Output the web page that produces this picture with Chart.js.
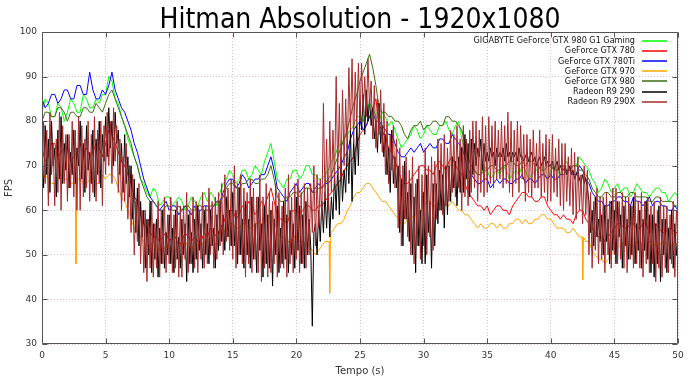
<!DOCTYPE html>
<html>
<head>
<meta charset="utf-8">
<script src="https://cdn.jsdelivr.net/npm/chart.js@4/dist/chart.umd.min.js"></script>
<style>
  html, body { margin: 0; padding: 0; background: #ffffff; }
  #wrap { width: 690px; height: 377px; }
</style>
</head>
<body>
<div id="wrap"><canvas id="c" width="690" height="377"></canvas></div>
<script>
// ---- data ----
const chartTitle = 'Hitman Absolution - 1920x1080';
const xTitle = 'Tempo (s)';
const yTitle = 'FPS';
const xTicks = [0, 5, 10, 15, 20, 25, 30, 35, 40, 45, 50];
const yTicks = [30, 40, 50, 60, 70, 80, 90, 100];

const seriesNames = [
  'GIGABYTE GeForce GTX 980 G1 Gaming',
  'GeForce GTX 780',
  'GeForce GTX 780Ti',
  'GeForce GTX 970',
  'GeForce GTX 980',
  'Radeon R9 290',
  'Radeon R9 290X'
];
const seriesColors = ['#00ff00', '#ff0000', '#0000ff', '#ffa500', '#3b6e0f', '#000000', '#a52a2a'];

// NVIDIA series: one value every 0.25 s (0 .. 50 s), one row per second
const stepSmooth = 0.25;
const g1Gaming = [
  82, 85, 84, 81,  81, 84, 83, 80,  82, 85, 84, 82,  82, 86, 85, 83,  83, 85, 84, 86,
  86, 90, 89, 85,  84, 81, 79, 76,  74, 72, 70, 67,  66, 64, 63, 65,  64, 61, 62, 63,
  63, 61, 62, 63,  62, 60, 61, 63,  62, 61, 63, 64,  62, 64, 63, 61,  64, 66, 67, 69,
  68, 66, 67, 69,  69, 67, 68, 70,  69, 68, 71, 73,  75, 71, 67, 66,  65, 67, 67, 69,
  69, 67, 68, 70,  70, 68, 68, 67,  67, 68, 69, 71,  72, 74, 75, 76,  77, 78, 79, 81,
  81, 80, 82, 84,  83, 81, 80, 82,  81, 79, 80, 78,  76, 74, 75, 76,  77, 79, 78, 76,
  77, 79, 78, 77,  77, 79, 79, 80,  78, 77, 79, 80,  76, 74, 71, 70,  69, 68, 68, 70,
  69, 67, 68, 69,  68, 70, 69, 67,  68, 69, 68, 70,  69, 67, 68, 69,  69, 70, 68, 67,
  69, 70, 69, 68,  70, 71, 69, 70,  70, 72, 71, 70,  69, 67, 66, 64,  65, 67, 66, 64,
  65, 66, 64, 65,  65, 63, 64, 66,  65, 64, 64, 63,  64, 65, 65, 64,  64, 62, 63, 64,
  63
];
const gtx780 = [
  74, 71, 72, 75,  75, 72, 73, 74,  74, 71, 72, 73,  75, 73, 74, 72,  73, 75, 74, 72,
  75, 78, 77, 75,  73, 71, 70, 68,  66, 63, 62, 59,  57, 56, 55, 54,  54, 53, 54, 55,
  53, 54, 54, 52,  53, 55, 54, 53,  54, 53, 53, 55,  54, 56, 55, 54,  56, 57, 59, 60,
  60, 58, 59, 61,  60, 62, 61, 59,  60, 62, 61, 63,  65, 62, 59, 58,  58, 57, 59, 60,
  60, 59, 60, 61,  61, 60, 60, 61,  61, 62, 63, 64,  65, 66, 67, 69,  70, 71, 72, 75,
  77, 78, 79, 81,  83, 85, 79, 78,  76, 74, 73, 71,  69, 67, 66, 66,  67, 68, 69, 70,
  70, 69, 69, 68,  70, 71, 70, 69,  71, 72, 70, 69,  68, 66, 64, 63,  62, 61, 61, 60,
  61, 59, 60, 61,  61, 60, 60, 59,  61, 62, 63, 64,  64, 63, 63, 62,  62, 63, 63, 61,
  60, 59, 59, 58,  59, 58, 58, 57,  59, 60, 60, 58,  57, 56, 55, 54,  54, 53, 54, 55,
  56, 57, 57, 56,  56, 57, 57, 56,  56, 57, 57, 55,  56, 57, 56, 55,  55, 56, 56, 55,
  55
];
const gtx780Ti = [
  85, 83, 84, 86,  86, 84, 85, 87,  87, 85, 85, 88,  88, 86, 86, 91,  87, 85, 85, 87,
  86, 88, 91, 87,  85, 83, 82, 80,  78, 75, 73, 70,  67, 65, 63, 62,  61, 60, 61, 62,
  60, 61, 61, 59,  60, 61, 60, 59,  61, 60, 60, 61,  61, 60, 61, 62,  62, 64, 66, 67,
  67, 65, 66, 68,  67, 65, 66, 67,  67, 68, 68, 70,  72, 69, 65, 64,  63, 62, 64, 65,
  66, 64, 65, 66,  66, 64, 65, 66,  65, 66, 66, 67,  68, 69, 70, 72,  73, 76, 78, 79,
  80, 78, 79, 81,  82, 80, 80, 79,  78, 77, 77, 75,  73, 72, 72, 73,  74, 73, 74, 75,
  73, 74, 75, 74,  74, 76, 76, 75,  75, 77, 76, 75,  74, 72, 69, 68,  67, 66, 66, 67,
  67, 65, 66, 67,  66, 67, 67, 66,  66, 67, 67, 68,  66, 67, 67, 66,  67, 68, 68, 67,
  68, 67, 67, 68,  68, 69, 69, 68,  68, 70, 69, 67,  66, 64, 63, 62,  62, 61, 61, 62,
  62, 63, 63, 62,  62, 61, 63, 62,  62, 61, 62, 63,  61, 62, 62, 61,  61, 60, 60, 61,
  60
];
const gtx970 = [
  66, 68, 67, 66,  66, 67, 68, 67,  67, 66, 66, 67,  67, 66, 66, 67,  67, 66, 66, 68,
  67, 68, 68, 67,  65, 63, 62, 60,  58, 56, 55, 54,  53, 52, 52, 53,  52, 51, 51, 52,
  52, 51, 51, 52,  52, 53, 52, 51,  53, 52, 52, 53,  53, 54, 53, 52,  54, 55, 56, 57,
  57, 56, 56, 57,  57, 56, 56, 57,  57, 58, 57, 58,  60, 58, 55, 54,  54, 53, 53, 54,
  54, 53, 53, 52,  52, 51, 50, 51,  52, 53, 53, 55,  56, 57, 57, 58,  60, 61, 63, 64,
  64, 65, 66, 66,  65, 64, 63, 62,  62, 61, 60, 59,  58, 57, 57, 58,  58, 59, 59, 60,
  61, 62, 62, 61,  61, 62, 62, 61,  61, 62, 61, 60,  60, 59, 59, 58,  57, 56, 57, 56,
  56, 57, 57, 56,  57, 56, 56, 57,  57, 58, 58, 57,  58, 57, 57, 58,  58, 59, 59, 58,
  58, 57, 56, 56,  56, 55, 55, 56,  55, 54, 54, 53,  53, 51, 50, 49,  49, 48, 49, 50,
  51, 52, 52, 53,  53, 52, 52, 53,  53, 52, 52, 53,  53, 52, 52, 53,  53, 52, 52, 53,
  52
];
// short drops of the GTX 970 line: [time, fps]
const gtx970Spikes = [[2.62, 66], [2.67, 48], [2.72, 66], [22.57, 53], [22.62, 41.4], [22.67, 54], [42.47, 54], [42.52, 44.4], [42.57, 54]];
const gtx980 = [
  80, 82, 82, 81,  81, 83, 83, 82,  80, 82, 82, 81,  81, 83, 83, 82,  82, 84, 83, 82,
  84, 86, 87, 85,  83, 81, 79, 77,  75, 72, 70, 67,  65, 63, 62, 62,  61, 60, 60, 61,
  61, 60, 60, 61,  60, 61, 61, 60,  60, 61, 61, 60,  60, 61, 61, 62,  62, 63, 65, 66,
  66, 65, 65, 66,  66, 67, 67, 66,  66, 67, 67, 68,  70, 67, 63, 62,  62, 63, 63, 64,
  64, 63, 64, 65,  65, 64, 64, 65,  65, 66, 67, 68,  70, 72, 74, 76,  78, 81, 84, 86,
  89, 91, 93, 95,  92, 88, 83, 82,  82, 81, 81, 80,  80, 79, 77, 76,  78, 79, 79, 80,
  78, 79, 79, 80,  80, 79, 79, 81,  81, 80, 80, 79,  78, 75, 72, 70,  69, 68, 68, 69,
  69, 70, 70, 69,  69, 70, 70, 71,  71, 70, 70, 71,  70, 71, 71, 70,  70, 69, 69, 70,
  70, 69, 69, 70,  70, 69, 69, 70,  70, 69, 69, 68,  67, 65, 64, 63,  63, 64, 64, 63,
  63, 64, 64, 63,  63, 64, 64, 63,  63, 63, 63, 62,  62, 63, 63, 62,  62, 62, 62, 61,
  61
];

// AMD series: one value every 0.125 s (0 .. 50 s), one row per second
const stepNoisy = 0.125;
const r9290 = [
  72, 65, 79, 68, 76, 64, 80, 70,
  74, 63, 78, 67, 81, 66, 75, 69,
  77, 65, 73, 68, 78, 66, 74, 70,
  80, 67, 75, 64, 79, 69, 73, 66,
  78, 63, 76, 68, 80, 65, 77, 71,
  81, 72, 83, 74, 80, 70, 82, 75,
  78, 68, 75, 64, 77, 66, 72, 63,
  70, 58, 67, 55, 65, 52, 62, 54,
  60, 47, 58, 50, 62, 46, 57, 49,
  58, 45, 56, 48, 60, 47, 55, 50,
  59, 48, 56, 46, 60, 49, 54, 47,
  58, 50, 57, 44, 59, 48, 55, 46,
  58, 49, 61, 51, 57, 47, 60, 50,
  57, 48, 60, 52, 56, 47, 59, 51,
  62, 53, 59, 51, 63, 54, 60, 52,
  64, 52, 60, 48, 65, 50, 58, 47,
  62, 50, 58, 47, 63, 49, 57, 46,
  63, 51, 57, 45, 61, 48, 59, 47,
  60, 43, 58, 50, 61, 46, 56, 48,
  62, 49, 59, 46, 60, 50, 57, 47,
  63, 51, 61, 48, 59, 47, 62, 50,
  58, 52, 34, 55, 57, 50, 60, 53,
  62, 55, 64, 56, 65, 54, 63, 58,
  68, 60, 70, 59, 72, 62, 69, 64,
  75, 66, 78, 62, 76, 68, 79, 70,
  84, 78, 86, 77, 87, 80, 85, 79,
  83, 76, 80, 73, 84, 75, 79, 72,
  77, 68, 74, 64, 78, 66, 72, 65,
  70, 55, 67, 52, 71, 58, 64, 53,
  66, 50, 63, 46, 67, 52, 60, 48,
  64, 48, 68, 55, 62, 47, 66, 52,
  66, 57, 69, 60, 68, 56, 70, 59,
  70, 62, 72, 65, 71, 61, 72, 64,
  74, 64, 77, 67, 75, 63, 76, 68,
  75, 70, 74, 72, 76, 69, 75, 71,
  73, 71, 74, 72, 73, 70, 74, 72,
  73, 72, 74, 71, 75, 72, 73, 71,
  73, 72, 73, 71, 74, 72, 72, 71,
  72, 73, 71, 72, 73, 71, 72, 70,
  71, 72, 70, 71, 72, 70, 71, 70,
  70, 71, 69, 70, 71, 69, 70, 69,
  69, 70, 68, 69, 70, 68, 69, 67,
  68, 69, 67, 66, 68, 66, 67, 65,
  62, 55, 60, 52, 63, 54, 58, 53,
  59, 50, 61, 53, 58, 48, 62, 51,
  60, 48, 62, 54, 59, 47, 61, 52,
  58, 49, 61, 50, 63, 48, 57, 51,
  60, 47, 58, 51, 62, 49, 59, 46,
  59, 45, 57, 48, 61, 44, 58, 50,
  58, 46, 56, 49, 60, 47, 57, 50,
  54
];
const r9290X = [
  63, 80, 66, 78, 61, 82, 68, 75,
  61, 76, 64, 82, 60, 79, 66, 77,
  62, 77, 65, 80, 63, 78, 60, 81,
  60, 79, 63, 76, 65, 80, 62, 77,
  64, 81, 62, 78, 66, 80, 61, 79,
  68, 82, 70, 80, 66, 83, 71, 79,
  64, 76, 60, 72, 62, 75, 58, 70,
  55, 68, 50, 62, 53, 66, 48, 60,
  46, 60, 44, 58, 47, 62, 45, 57,
  47, 62, 45, 60, 48, 63, 46, 59,
  48, 63, 46, 59, 47, 62, 45, 61,
  45, 61, 49, 64, 46, 60, 48, 63,
  47, 62, 46, 60, 49, 64, 47, 61,
  48, 65, 50, 62, 47, 63, 49, 64,
  52, 66, 50, 68, 53, 65, 51, 67,
  49, 70, 47, 66, 50, 68, 48, 65,
  45, 64, 48, 67, 46, 65, 49, 63,
  46, 68, 44, 63, 47, 66, 45, 64,
  46, 62, 48, 66, 45, 64, 47, 61,
  47, 65, 45, 68, 48, 63, 46, 66,
  49, 67, 46, 64, 48, 66, 47, 65,
  50, 66, 55, 70, 52, 68, 56, 67,
  58, 84, 62, 76, 60, 80, 64, 78,
  66, 90, 68, 84, 67, 87, 70, 85,
  72, 92, 78, 94, 75, 91, 79, 93,
  80, 93, 82, 90, 81, 94, 83, 89,
  76, 88, 74, 85, 77, 87, 73, 84,
  68, 80, 66, 77, 69, 79, 65, 76,
  56, 74, 52, 70, 58, 72, 54, 69,
  50, 72, 48, 66, 52, 70, 49, 68,
  52, 74, 50, 70, 54, 72, 51, 71,
  58, 76, 60, 75, 59, 77, 61, 74,
  62, 78, 64, 77, 63, 79, 65, 76,
  60, 79, 63, 76, 61, 78, 64, 80,
  65, 80, 62, 78, 64, 81, 63, 79,
  64, 81, 66, 79, 65, 80, 67, 78,
  67, 80, 65, 79, 66, 82, 64, 80,
  63, 78, 66, 80, 64, 79, 67, 77,
  62, 77, 64, 76, 63, 78, 65, 75,
  65, 78, 63, 75, 64, 77, 62, 76,
  62, 77, 64, 74, 63, 76, 61, 75,
  60, 75, 62, 72, 61, 74, 59, 73,
  58, 72, 60, 68, 57, 70, 59, 69,
  50, 64, 47, 62, 51, 65, 48, 63,
  49, 63, 46, 64, 50, 62, 47, 65,
  50, 65, 48, 62, 49, 64, 47, 63,
  46, 63, 49, 61, 47, 64, 48, 62,
  47, 64, 45, 62, 48, 63, 46, 61,
  48, 62, 44, 60, 47, 63, 45, 61,
  47, 61, 46, 59, 48, 62, 45, 60,
  55
];

// ---- build the library data ----
function toPoints(values, step) {
  return values.map((v, i) => ({ x: i * step, y: v }));
}
function withSpikes(points, spikes) {
  const all = points.concat(spikes.map(s => ({ x: s[0], y: s[1] })));
  all.sort((a, b) => a.x - b.x);
  return all;
}
const seriesPoints = [
  toPoints(g1Gaming, stepSmooth),
  toPoints(gtx780, stepSmooth),
  toPoints(gtx780Ti, stepSmooth),
  withSpikes(toPoints(gtx970, stepSmooth), gtx970Spikes),
  toPoints(gtx980, stepSmooth),
  toPoints(r9290, stepNoisy),
  toPoints(r9290X, stepNoisy)
];

const datasets = seriesNames.map((name, i) => ({
  label: name,
  data: seriesPoints[i],
  borderColor: seriesColors[i],
  backgroundColor: seriesColors[i],
  borderWidth: 1,
  pointRadius: 0,
  tension: 0,
  fill: false,
  order: seriesNames.length - i   // later series drawn on top, as in the original
}));

const PLOT = { left: 42, right: 678, top: 32, bottom: 344 };
const TICK_FONT = { family: 'DejaVu Sans', size: 9 };
const TEXT_COLOR = '#333333';

const decorations = {
  id: 'decorations',
  afterDraw(chart) {
    const { ctx, chartArea: a, scales } = chart;
    const xs = scales.x, ys = scales.y;
    ctx.save();
    ctx.strokeStyle = '#555555';
    ctx.lineWidth = 1;
    const L = Math.round(a.left) + 0.5, R = Math.round(a.right) - 0.5;
    const T = Math.round(a.top) + 0.5, B = Math.round(a.bottom) - 0.5;
    ctx.beginPath();
    ctx.rect(L, T, R - L, B - T);
    xTicks.forEach(v => {
      const px = Math.round(xs.getPixelForValue(v)) + 0.5;
      ctx.moveTo(px, B); ctx.lineTo(px, B - 5);
      ctx.moveTo(px, T); ctx.lineTo(px, T + 5);
    });
    yTicks.forEach(v => {
      const py = Math.round(ys.getPixelForValue(v)) + 0.5;
      ctx.moveTo(L, py); ctx.lineTo(L + 5, py);
      ctx.moveTo(R, py); ctx.lineTo(R - 5, py);
    });
    ctx.stroke();

    // title
    ctx.fillStyle = '#000000';
    ctx.font = '28px "DejaVu Sans Condensed"';
    ctx.textAlign = 'center';
    ctx.textBaseline = 'alphabetic';
    ctx.fillText(chartTitle, (a.left + a.right) / 2, 28);

    // axis titles
    ctx.fillStyle = TEXT_COLOR;
    ctx.font = '10px "DejaVu Sans"';
    ctx.textBaseline = 'middle';
    ctx.fillText(xTitle, (a.left + a.right) / 2, 371);
    ctx.save();
    ctx.translate(9, (a.top + a.bottom) / 2);
    ctx.rotate(-Math.PI / 2);
    ctx.fillText(yTitle, 0, 0);
    ctx.restore();

    // legend (top right, text right-aligned, line sample on the right)
    ctx.font = '9px "DejaVu Sans Condensed"';
    ctx.textAlign = 'right';
    ctx.textBaseline = 'middle';
    seriesNames.forEach((name, i) => {
      const yy = 41 + i * 10.1;
      ctx.fillStyle = '#111111';
      ctx.fillText(name, 635, yy);
      ctx.beginPath();
      ctx.strokeStyle = seriesColors[i];
      ctx.lineWidth = 1.5;
      ctx.moveTo(642, Math.round(yy));
      ctx.lineTo(667, Math.round(yy));
      ctx.stroke();
    });
    ctx.restore();
  }
};

new Chart(document.getElementById('c'), {
  type: 'line',
  data: { datasets },
  options: {
    responsive: false,
    animation: false,
    devicePixelRatio: 1,
    layout: { padding: { top: PLOT.top, right: 690 - PLOT.right, left: 0, bottom: 0 } },
    plugins: {
      legend: { display: false },
      title: { display: false },
      tooltip: { enabled: false }
    },
    scales: {
      x: {
        type: 'linear',
        min: 0, max: 50,
        afterBuildTicks: s => { s.ticks = xTicks.map(v => ({ value: v })); },
        afterFit: s => { s.height = 377 - PLOT.bottom; },
        ticks: { font: TICK_FONT, color: TEXT_COLOR, padding: 6, maxRotation: 0, autoSkip: false },
        grid: { color: '#e3bcc4', drawTicks: false, lineWidth: 1 },
        border: { display: false, dash: [1, 2] }
      },
      y: {
        type: 'linear',
        min: 30, max: 100,
        afterBuildTicks: s => { s.ticks = yTicks.map(v => ({ value: v })); },
        afterFit: s => { s.width = PLOT.left; },
        ticks: { font: TICK_FONT, color: TEXT_COLOR, padding: 5, autoSkip: false },
        grid: { color: '#e3bcc4', drawTicks: false, lineWidth: 1 },
        border: { display: false, dash: [1, 2] }
      }
    }
  },
  plugins: [decorations]
});
</script>
</body>
</html>
